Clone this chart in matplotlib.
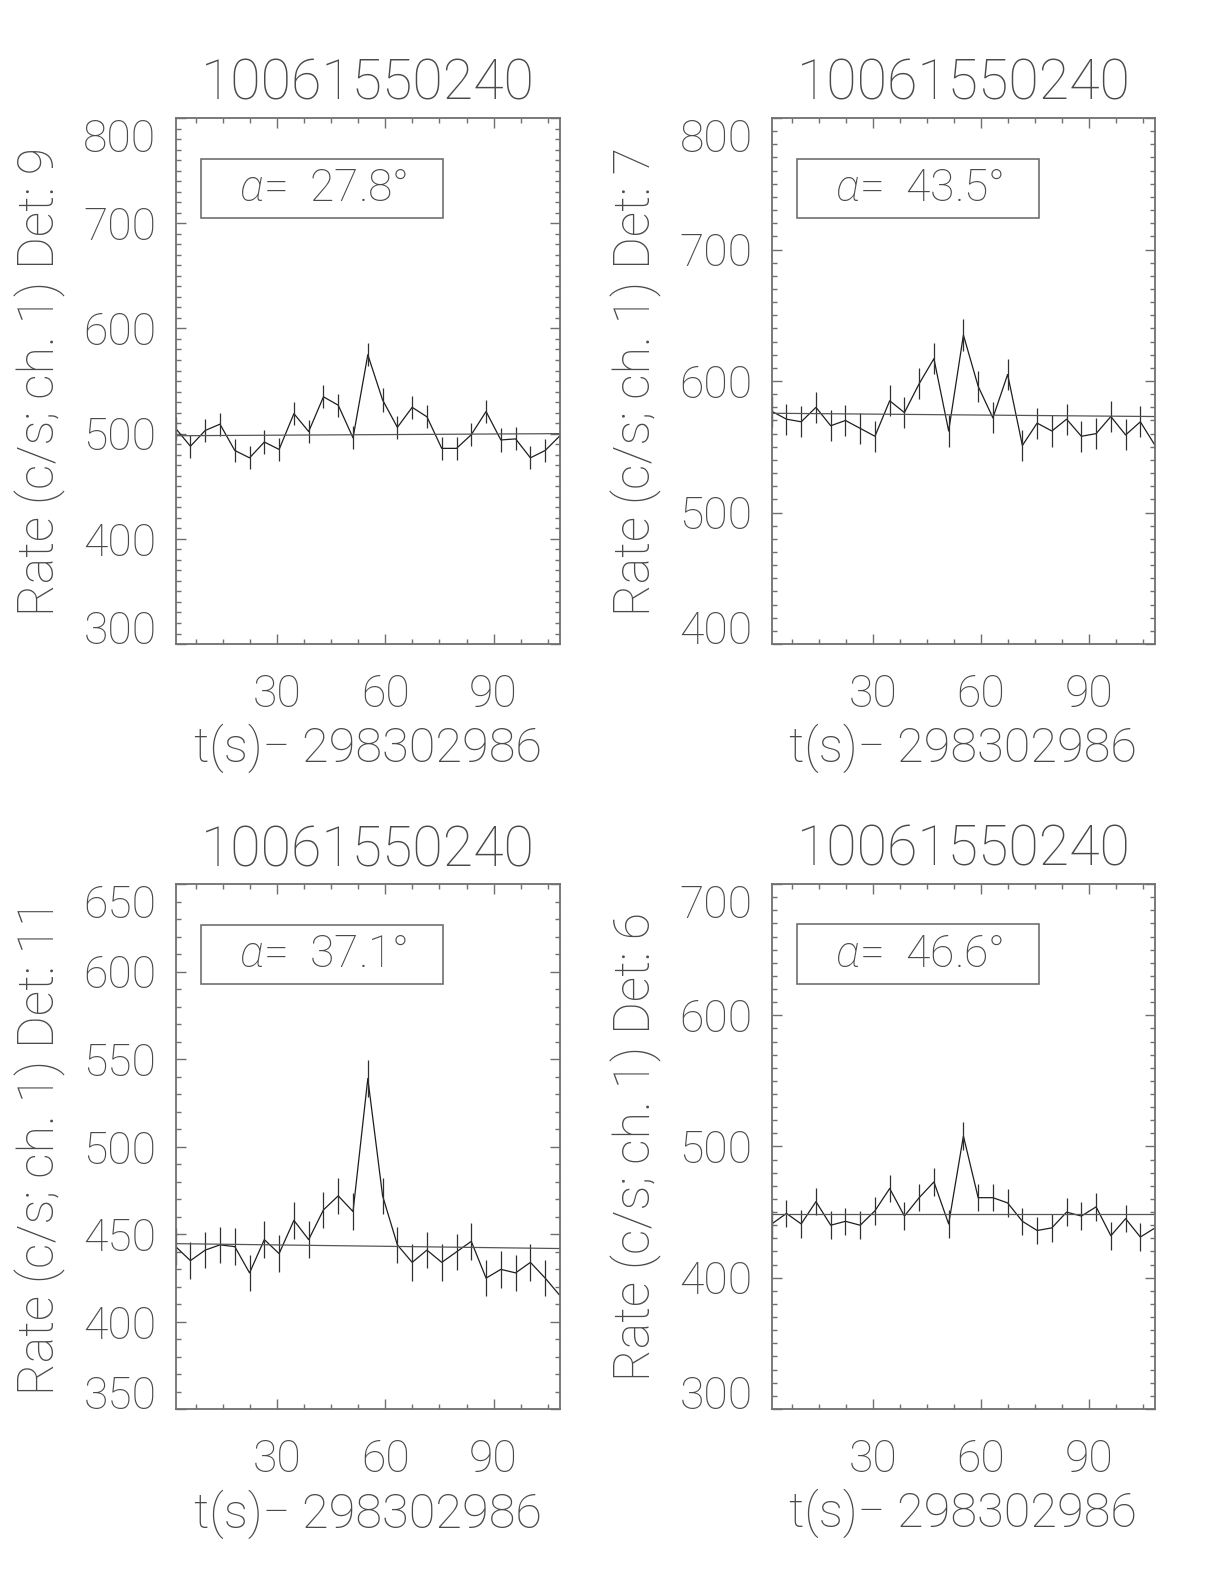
import numpy as np
import matplotlib
matplotlib.use("Agg")
from matplotlib import pyplot as plt
from matplotlib.patches import Rectangle
from matplotlib.ticker import MultipleLocator

# time bins (s after 298302986), 4.096 s CTIME bins
t_start = 1.9
bin_width = 4.096
n_bins = 27

title = '10061550240'
xlabel = 't(s)\u2212 298302986'
dets = [9, 7, 11, 6]
angles = [27.8, 43.5, 37.1, 46.6]

# count rates (ch. 1)
rate_det9 = [505, 488, 503, 509, 484, 477, 492, 485, 519, 502, 535, 527, 496, 575,
             532, 506, 525, 516, 486, 486, 499, 521, 494, 495, 477, 484, 498]
rate_det7 = [577, 571, 569, 580, 566, 570, 564, 558, 585, 576, 598, 617, 562, 635,
             596, 572, 605, 551, 568, 562, 571, 558, 560, 573, 559, 569, 551]
rate_det11 = [443, 435, 441, 444, 443, 428, 447, 439, 458, 447, 464, 472, 463, 539,
              472, 444, 434, 441, 434, 440, 446, 425, 430, 428, 434, 425, 415]
rate_det6 = [441, 449, 441, 458, 440, 443, 440, 451, 468, 447, 461, 473, 441, 508,
             461, 461, 457, 443, 436, 438, 450, 447, 454, 432, 445, 431, 438]
rates = [rate_det9, rate_det7, rate_det11, rate_det6]
rate_err = [11.0, 11.8, 10.4, 10.5]

# background fit, value at start and end of the window
bg_start = [498, 575.5, 444.7, 448.7]
bg_end = [500, 573, 441.9, 448.7]

ylims = [(300, 800), (400, 800), (350, 650), (300, 700)]
ymajor = [100, 100, 50, 100]

positions = [[0.1435, 0.5934, 0.314, 0.3321],
             [0.6305, 0.5934, 0.3132, 0.3321],
             [0.1435, 0.1102, 0.314, 0.3316],
             [0.6305, 0.1105, 0.3132, 0.3314]]

txt_col = '#4a4a4a'
ax_col = '#707070'
plt.rcParams['font.family'] = ['Roboto', 'DejaVu Sans']
plt.rcParams['font.weight'] = 'light'
plt.rcParams['mathtext.fontset'] = 'custom'
plt.rcParams['mathtext.it'] = 'Roboto:italic:light'
plt.rcParams['mathtext.rm'] = 'Roboto:light'

fig = plt.figure(figsize=(12.24, 15.84), dpi=100)
times = t_start + bin_width * np.arange(n_bins)

for i in range(4):
    ax = fig.add_axes(positions[i])
    y = np.array(rates[i])
    ax.plot(times, y, color='#1e1e1e', lw=0.9)
    ax.errorbar(times, y, yerr=rate_err[i], fmt='none', ecolor='#303030',
                elinewidth=0.9, capsize=0)
    ax.plot([times[0], times[-1]], [bg_start[i], bg_end[i]], color='#555555', lw=0.9)

    ax.set_xlim(times[0], times[-1])
    ax.set_ylim(*ylims[i])
    ax.xaxis.set_major_locator(MultipleLocator(30))
    ax.xaxis.set_minor_locator(MultipleLocator(7.5))
    ax.yaxis.set_major_locator(MultipleLocator(ymajor[i]))
    ax.yaxis.set_minor_locator(MultipleLocator(10))
    ax.tick_params(which='both', direction='in', top=True, right=True,
                   colors=ax_col, labelcolor=txt_col, labelsize=32, width=1.0)
    ax.tick_params(which='major', length=7)
    ax.tick_params(which='minor', length=3.5)
    ax.tick_params(axis='x', pad=21)
    ax.tick_params(axis='y', labelleft=False)
    for s in ax.spines.values():
        s.set_color(ax_col)
        s.set_linewidth(1.3)

    # y labels by hand: end labels sit inside the axis span, like the original
    yvals = np.arange(ylims[i][0], ylims[i][1] + 1, ymajor[i])
    for k, v in enumerate(yvals):
        va = 'center_baseline'
        if k == 0:
            va = 'baseline'
        elif k == len(yvals) - 1:
            va = 'top'
        ax.text(-0.05, v, '%d' % v, transform=ax.get_yaxis_transform(),
                ha='right', va=va, fontsize=32, color=txt_col)

    ax.set_title(title, fontsize=40, color=txt_col, pad=13, fontweight='light')
    ax.set_xlabel(xlabel, fontsize=35, color=txt_col, labelpad=6, fontweight='light')
    ax.set_ylabel('Rate (c/s; ch. 1) Det: %d' % dets[i], fontsize=36,
                  color=txt_col, fontweight='light')
    ax.yaxis.set_label_coords(-0.285, 0.5)

    ax.add_patch(Rectangle((0.066, 0.81), 0.63, 0.113, transform=ax.transAxes,
                           fill=False, edgecolor=ax_col, lw=1.2))
    ax.text(0.165, 0.866, r'$\alpha$=  ' + '%.1f\u00b0' % angles[i],
            transform=ax.transAxes, fontsize=32, color=txt_col,
            ha='left', va='center')

fig.savefig('out.png', dpi=100)
